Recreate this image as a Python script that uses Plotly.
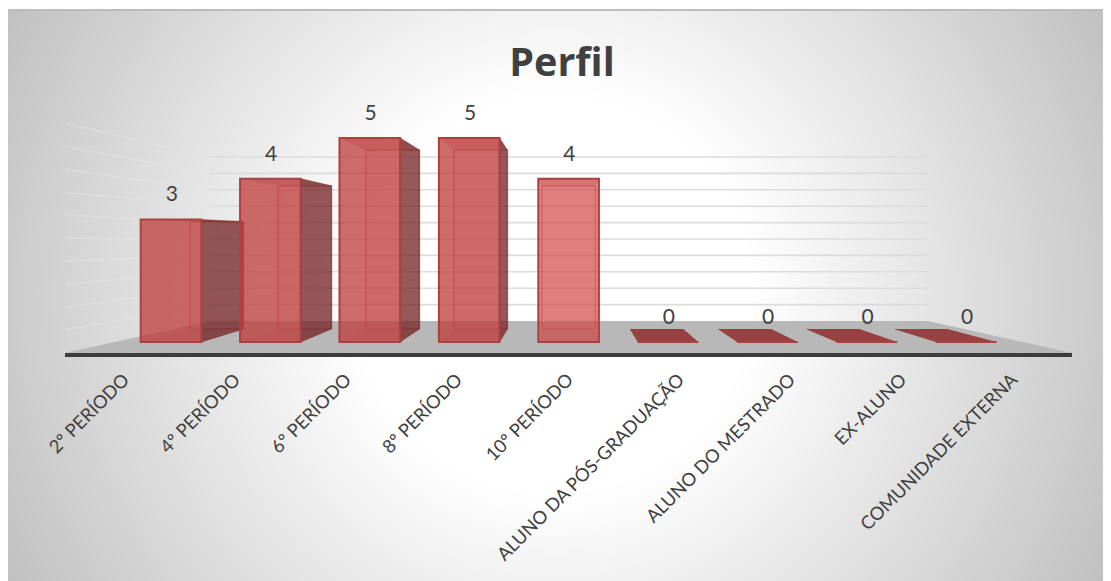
import plotly.graph_objects as go

categories = ["2º PERÍODO", "4º PERÍODO", "6º PERÍODO", "8º PERÍODO", "10º PERÍODO",
              "ALUNO DA PÓS-GRADUAÇÃO", "ALUNO DO MESTRADO", "EX-ALUNO", "COMUNIDADE EXTERNA"]
values = [3, 4, 5, 5, 4, 0, 0, 0, 0]
wall_levels = [0.5, 1, 1.5, 2, 2.5, 3, 3.5, 4, 4.5, 5]

# page geometry (the page body has an 8px margin)
W, H = 1103, 573
L, R, T, B = 57, 39, 53, 228
PX_Y = 40.8          # pixels per value unit, front plane
PX_X = 99.4          # pixels per category, front plane
X0 = 171             # page x of first bar
Y0 = 341             # page y of value 0
AX_L, AX_R, AX_TOP, AX_BOT = 65, 1072, 60, 352

x_range = [(AX_L - X0) / PX_X, (AX_R - X0) / PX_X]
y_range = [(Y0 - AX_BOT) / PX_Y, (Y0 - AX_TOP) / PX_Y]
HALF = 0.305
VP = 4.0             # vanishing category
S_X, S_Y = 0.885, 0.877
DEPTH = 13 / PX_Y
FONT = "Lato"


def back_x(x):
    return VP + S_X * (x - VP)


def back_y(v):
    return S_Y * v + DEPTH


def px(x):
    return (x - 8 - L) / (W - L - R)


def py(y):
    return 1 - (y - 8 - T) / (H - T - B)


shapes = []
# radial background
for g in range(193, 256):
    r = 200 + (255 - g) / 0.148
    c = f"rgb({g},{g},{g})"
    shapes.append(dict(type="circle", xref="paper", yref="paper", layer="below",
                       x0=px(555 - r), x1=px(555 + r), y0=py(295 + r), y1=py(295 - r),
                       fillcolor=c, line_width=0))
shapes.append(dict(type="rect", xref="paper", yref="paper", layer="below",
                   x0=px(8), x1=px(1111), y0=py(9), y1=py(8), fillcolor="white", line_width=0))
shapes.append(dict(type="rect", xref="paper", yref="paper", layer="below",
                   x0=px(8), x1=px(1111), y0=py(11), y1=py(9), fillcolor="#bcbcbc", line_width=0))

fig = go.Figure()


def poly(xs, ys, fill, line="rgba(0,0,0,0)", lw=0, axis="x"):
    fig.add_trace(go.Scatter(x=xs, y=ys, mode="lines", fill="toself", fillcolor=fill,
                             line=dict(color=line, width=lw), xaxis=axis, yaxis="y",
                             hoverinfo="skip", showlegend=False))


# floor
wall_l, wall_r = (210 - X0) / PX_X, (928 - X0) / PX_X
wall_base = (Y0 - 320) / PX_Y
wall_scale = 0.804
poly([x_range[0], wall_l, wall_r, x_range[1], x_range[0]],
     [y_range[0], wall_base, wall_base, y_range[0], y_range[0]], "#b8b8b8")

# wall gridlines, fading towards the viewer on the left wall
for lv in wall_levels:
    yw = wall_base + lv * wall_scale
    yf = y_range[0] + lv * wall_scale * 1.4
    xm = (x_range[0] + wall_l) / 2
    ym = (yf + yw) / 2
    fig.add_trace(go.Scatter(x=[x_range[0], xm], y=[yf, ym], mode="lines",
                             line=dict(color="rgba(236,236,236,0.35)", width=1.6),
                             hoverinfo="skip", showlegend=False))
    fig.add_trace(go.Scatter(x=[xm, wall_l], y=[ym, yw], mode="lines",
                             line=dict(color="rgba(226,226,226,0.7)", width=1.6),
                             hoverinfo="skip", showlegend=False))
    fig.add_trace(go.Scatter(x=[wall_l, wall_r], y=[yw, yw], mode="lines",
                             line=dict(color="#dcdcdc", width=1.6),
                             hoverinfo="skip", showlegend=False))

# inner and side faces of each bar
for i, v in enumerate(values):
    fl, fr = i - HALF, i + HALF
    bl, br = back_x(fl), back_x(fr)
    y0b, ytb = back_y(0), back_y(v)
    if v == 0:
        poly([fl, fr, br, bl, fl], [0, 0, y0b, y0b, 0], "#964242")
        continue
    line = "rgba(170,50,50,0.42)"
    # back face
    poly([bl, br, br, bl, bl], [y0b, y0b, ytb, ytb, y0b], "rgba(190,70,70,0.08)", line, 1.6)
    # floor of the bar, top of the bar
    poly([fl, fr, br, bl, fl], [0, 0, y0b, y0b, 0], "rgba(150,40,40,0.12)")
    poly([fl, fr, br, bl, fl], [v, v, ytb, ytb, v], "rgba(150,40,40,0.25)")
    # right face
    if br > fr:
        poly([fr, br, br, fr, fr], [0, y0b, ytb, v, 0], "rgba(115,35,35,0.74)",
             "rgba(125,40,40,0.45)", 1)

# front faces
fig.add_trace(go.Bar(x=list(range(len(values))), y=values, width=HALF * 2,
                     marker=dict(color=["rgba(190,62,62,0.76)"] * 4 + ["rgba(208,70,70,0.66)"] * 5,
                                 line=dict(color="#ad3f3f", width=2)),
                     xaxis="x2", yaxis="y", hoverinfo="skip", showlegend=False))
# value labels
LABEL_OFF = 23.5 / PX_Y
fig.add_trace(go.Scatter(x=[i + 0.008 for i in range(len(values))], y=[v + LABEL_OFF for v in values],
                         mode="text", text=[str(v) for v in values], textposition="middle center",
                         textfont=dict(family=FONT, size=21, color="#404040"),
                         xaxis="x2", yaxis="y", hoverinfo="skip", showlegend=False))
# category axis carrier
fig.add_trace(go.Scatter(x=list(range(len(values))), y=values, mode="none",
                         xaxis="x3", yaxis="y", hoverinfo="skip", showlegend=False))

fig.update_layout(
    width=W, height=H, margin=dict(l=L, r=R, t=T, b=B, pad=0),
    paper_bgcolor="#c0c0c0", plot_bgcolor="rgba(0,0,0,0)",
    barmode="overlay", shapes=shapes, showlegend=False,
    title=dict(text="<b>Perfil</b>", x=(562 - 8) / W, xanchor="center", xref="container",
               y=1 - (62 - 8) / H, yanchor="middle", yref="container",
               font=dict(family="Open Sans", size=39.5, color="#404040")),
    xaxis=dict(range=x_range, visible=False, fixedrange=True),
    xaxis2=dict(range=x_range, visible=False, overlaying="x", fixedrange=True, anchor="y"),
    xaxis3=dict(range=[-0.53, -0.53 + 9.07], overlaying="x", anchor="y", side="bottom",
                tickmode="array", tickvals=list(range(len(categories))), ticktext=categories,
                tickangle=-45, ticks="outside", ticklen=5, tickcolor="rgba(0,0,0,0)",
                tickfont=dict(family=FONT, size=18.3, color="#404040"),
                showline=True, linecolor="#3c3c3c", linewidth=3.5, showgrid=False,
                zeroline=False, fixedrange=True),
    yaxis=dict(range=y_range, visible=False, fixedrange=True, showgrid=False, zeroline=False),
)
fig.write_html("out.html")
